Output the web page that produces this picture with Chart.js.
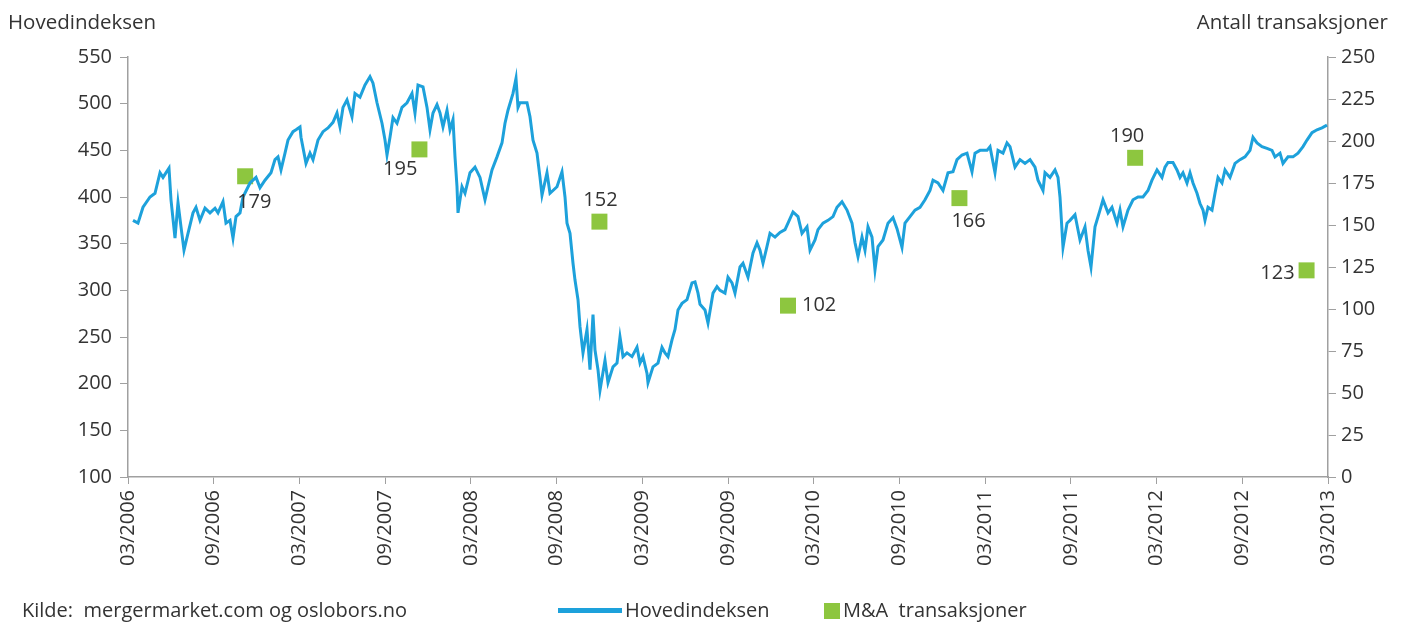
<!DOCTYPE html>
<html>
<head>
<meta charset="utf-8">
<script src="https://cdn.jsdelivr.net/npm/chart.js@4"></script>
<style>
  html, body { margin: 0; padding: 0; background: #fff; }
  #wrap { width: 1405px; height: 624px; position: relative; }
</style>
</head>
<body>
<div id="wrap"><canvas id="chart"></canvas></div>
<script>
// x = months since 03/2006
const indexMonths = [
  0.35, 0.70, 1.05, 1.54, 1.89, 2.24, 2.45, 2.87, 3.01, 3.29, 3.50, 3.71, 3.92, 4.20, 4.55, 4.76,
  5.04, 5.39, 5.74, 6.09, 6.30, 6.65, 6.86, 7.14, 7.35, 7.56, 7.84, 8.05, 8.54, 8.96, 9.24, 9.59,
  10.01, 10.29, 10.50, 10.71, 10.99, 11.20, 11.55, 11.76, 12.04, 12.11, 12.46, 12.74, 12.95, 13.30,
  13.65, 14.00, 14.35, 14.63, 14.84, 15.05, 15.33, 15.68, 15.89, 16.24, 16.59, 16.94, 17.15, 17.43,
  17.78, 17.99, 18.13, 18.34, 18.55, 18.83, 19.18, 19.53, 19.88, 20.09, 20.30, 20.65, 20.93, 21.14,
  21.35, 21.63, 21.84, 22.05, 22.33, 22.54, 22.75, 22.89, 23.03, 23.10, 23.38, 23.59, 23.94, 24.29,
  24.64, 24.99, 25.20, 25.48, 25.83, 26.18, 26.39, 26.60, 26.95, 27.16, 27.30, 27.44, 27.93, 28.14,
  28.35, 28.63, 28.84, 28.98, 29.33, 29.54, 30.03, 30.38, 30.59, 30.73, 30.94, 31.15, 31.29, 31.50,
  31.64, 31.85, 32.13, 32.34, 32.55, 32.69, 32.90, 33.04, 33.39, 33.60, 33.95, 34.23, 34.44, 34.65,
  34.93, 35.28, 35.63, 35.84, 36.05, 36.33, 36.40, 36.75, 37.10, 37.38, 37.59, 37.80, 38.08, 38.29,
  38.50, 38.78, 39.13, 39.48, 39.69, 39.90, 40.04, 40.39, 40.60, 40.95, 41.23, 41.44, 41.79, 42.00,
  42.28, 42.49, 42.84, 43.05, 43.40, 43.75, 44.03, 44.24, 44.45, 44.73, 44.94, 45.29, 45.64, 45.99,
  46.20, 46.55, 46.90, 47.18, 47.53, 47.74, 48.09, 48.30, 48.65, 49.00, 49.35, 49.63, 49.98, 50.33,
  50.68, 50.89, 51.10, 51.38, 51.59, 51.80, 52.08, 52.29, 52.50, 52.85, 53.20, 53.55, 53.83, 54.18,
  54.39, 54.74, 55.09, 55.44, 55.79, 56.14, 56.35, 56.70, 57.05, 57.40, 57.75, 58.03, 58.38, 58.73,
  59.08, 59.29, 59.64, 60.13, 60.34, 60.69, 60.90, 61.25, 61.53, 61.74, 62.09, 62.44, 62.79, 63.14,
  63.49, 63.70, 64.05, 64.19, 64.54, 64.89, 65.10, 65.24, 65.45, 65.73, 65.94, 66.29, 66.64, 66.99,
  67.20, 67.41, 67.69, 68.04, 68.25, 68.60, 68.88, 69.23, 69.44, 69.65, 70.00, 70.35, 70.70, 71.05,
  71.40, 71.68, 72.03, 72.38, 72.59, 72.80, 73.15, 73.43, 73.64, 73.85, 74.13, 74.34, 74.55, 74.83,
  75.04, 75.25, 75.39, 75.60, 75.88, 76.09, 76.30, 76.58, 76.79, 77.14, 77.49, 77.84, 78.19, 78.54,
  78.75, 79.03, 79.38, 79.73, 80.08, 80.29, 80.64, 80.85, 81.20, 81.55, 81.90, 82.25, 82.53, 82.88,
  83.23, 83.58, 83.93
];
const indexValues = [
  375, 372, 389, 400, 404, 426, 421, 431, 397, 356, 394, 368, 343, 361, 383, 389,
  375, 388, 383, 388, 383, 395, 372, 375, 356, 379, 383, 400, 415, 421, 410, 418,
  426, 440, 443, 429, 447, 461, 470, 472, 475, 464, 436, 447, 440, 461,
  470, 474, 480, 490, 475, 496, 504, 486, 511, 507, 520, 529, 522, 501,
  479, 461, 445, 464, 485, 479, 496, 501, 511, 490, 520, 518, 496, 472,
  490, 499, 490, 475, 493, 472, 483, 443, 411, 383, 411, 404, 426, 432,
  421, 397, 411, 429, 443, 458, 479, 493, 511, 527, 496, 501, 501, 486,
  461, 447, 421, 402, 426, 404, 411, 427, 400, 372, 361, 329, 311, 290,
  261, 233, 258, 215, 274, 236, 215, 193, 225, 201, 218, 222, 250, 229,
  233, 229, 239, 222, 229, 211, 201, 218, 222, 239, 233, 229, 247, 258,
  279, 286, 290, 308, 309, 297, 285, 279, 265, 297, 304, 300, 297, 314,
  308, 297, 325, 329, 314, 340, 351, 343, 329, 347, 361, 357, 362, 365,
  372, 384, 379, 361, 368, 343, 354, 365, 372, 375, 379, 389, 395, 386,
  372, 351, 336, 357, 343, 368, 357, 322, 347, 354, 372, 378, 366, 346,
  372, 379, 386, 389, 397, 407, 418, 415, 407, 426, 427, 440, 445, 447,
  427, 447, 450, 450, 454, 426, 450, 447, 458, 454, 432, 440, 436, 440,
  432, 418, 407, 426, 421, 429, 421, 400, 346, 372, 375, 381, 354, 368,
  343, 325, 368, 386, 397, 383, 389, 372, 386, 368, 386, 397, 400, 400,
  407, 418, 429, 421, 432, 437, 437, 429, 421, 426, 415, 426, 415, 404,
  393, 386, 375, 389, 386, 404, 421, 415, 429, 421, 436, 440, 443, 450,
  464, 458, 454, 452, 450, 443, 447, 436, 443, 443, 447, 454, 461, 469,
  472, 474, 477
];

// M&A transactions per year
const maMonths = [8.2, 20.4, 33.0, 46.2, 58.2, 70.5, 82.5];
const maValues = [179, 195, 152, 102, 166, 190, 123];
// label offsets relative to the marker [dx, dy, align]
const maLabelPlace = [
  [-8, 26, "left"], [-2, 20, "right"], [1, -21, "center"], [14, 0, "left"],
  [-8, 23, "left"], [-8, -22, "center"], [-12, 3, "right"]
];

const leftTicks = { min: 100, max: 550, step: 50 };
const rightTicks = { min: 0, max: 250, step: 25 };

const LINE = "#1da1db";
const GREEN = "#8dc63f";
const TEXT = "#333333";
const AXIS = "#a0a0a0";
const FONT = "'Open Sans', 'Noto Sans', sans-serif";

function monthLabel(m) {
  const mm = 3 + (m % 12);
  const yy = 2006 + Math.floor(m / 12);
  return String(mm).padStart(2, "0") + "/" + yy;
}

const textPlugin = {
  id: "texts",
  afterDraw(chart) {
    const ctx = chart.ctx;
    ctx.save();
    ctx.fillStyle = TEXT;
    ctx.textBaseline = "middle";

    ctx.font = "20.5px " + FONT;
    ctx.textAlign = "left";
    ctx.fillText("Hovedindeksen", 8, 23);
    ctx.textAlign = "right";
    ctx.fillText("Antall transaksjoner", 1388, 23);

    ctx.font = "20px " + FONT;
    ctx.textAlign = "left";
    ctx.fillText("Kilde:  mergermarket.com og oslobors.no", 22, 611);

    // legend
    ctx.fillStyle = LINE;
    ctx.fillRect(558, 608, 64, 5);
    ctx.fillStyle = TEXT;
    ctx.fillText("Hovedindeksen", 625, 611);
    ctx.fillStyle = GREEN;
    ctx.fillRect(824, 603, 16, 16);
    ctx.fillStyle = TEXT;
    ctx.fillText("M&A  transaksjoner", 843, 611);

    // point labels
    ctx.font = "20px " + FONT;
    const meta = chart.getDatasetMeta(1);
    meta.data.forEach((pt, i) => {
      const p = maLabelPlace[i];
      ctx.textAlign = p[2];
      ctx.fillText(String(maValues[i]), pt.x + p[0], pt.y + p[1]);
    });
    ctx.restore();
  },
};

const ctx = document.getElementById("chart").getContext("2d");
new Chart(ctx, {
  type: "line",
  data: {
    datasets: [
      {
        label: "Hovedindeksen",
        data: indexMonths.map((m, i) => ({ x: m, y: indexValues[i] })),
        borderColor: LINE,
        borderWidth: 3,
        pointRadius: 0,
        tension: 0,
        yAxisID: "y",
      },
      {
        label: "M&A transaksjoner",
        data: maMonths.map((m, i) => ({ x: m, y: maValues[i] })),
        showLine: false,
        pointStyle: "rect",
        pointRadius: 11.3,
        pointBackgroundColor: GREEN,
        pointBorderWidth: 0,
        borderColor: GREEN,
        yAxisID: "y2",
      },
    ],
  },
  options: {
    responsive: true,
    maintainAspectRatio: false,
    animation: false,
    layout: { padding: { top: 57, left: 0, right: 0, bottom: 0 } },
    plugins: {
      legend: { display: false },
      tooltip: { enabled: false },
    },
    scales: {
      x: {
        type: "linear",
        min: 0,
        max: 84,
        afterFit: (s) => { s.height = 147; },
        afterBuildTicks: (s) => {
          s.ticks = [];
          for (let m = 0; m <= 84; m += 6) s.ticks.push({ value: m });
        },
        ticks: {
          color: TEXT,
          font: { size: 20, family: FONT },
          minRotation: 90,
          maxRotation: 90,
          padding: 6,
          callback: (v) => monthLabel(v),
        },
        grid: { drawOnChartArea: false, color: AXIS, tickLength: 7 },
        border: { color: AXIS, width: 1.5 },
      },
      y: {
        position: "left",
        min: leftTicks.min,
        max: leftTicks.max,
        afterFit: (s) => { s.width = 128; },
        ticks: {
          stepSize: leftTicks.step,
          color: TEXT,
          font: { size: 20, family: FONT },
          padding: 8,
        },
        grid: { drawOnChartArea: false, color: AXIS, tickLength: 8 },
        border: { color: AXIS, width: 1.5 },
      },
      y2: {
        position: "right",
        min: rightTicks.min,
        max: rightTicks.max,
        afterFit: (s) => { s.width = 77; },
        ticks: {
          stepSize: rightTicks.step,
          color: TEXT,
          font: { size: 20, family: FONT },
          padding: 5,
        },
        grid: { drawOnChartArea: false, color: AXIS, tickLength: 8 },
        border: { color: AXIS, width: 1.5 },
      },
    },
  },
  plugins: [textPlugin],
});
</script>
</body>
</html>
